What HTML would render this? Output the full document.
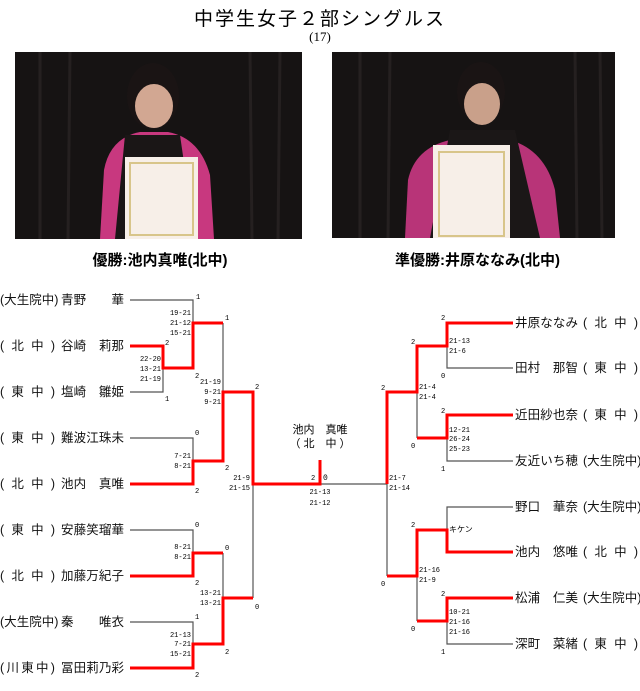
<!DOCTYPE html>
<html><head><meta charset="utf-8">
<style>
body{margin:0;width:640px;height:691px;background:#fff;position:relative;overflow:hidden;font-family:"Liberation Sans","Noto Sans CJK JP",sans-serif;}
.a{position:absolute;white-space:nowrap;color:#000;}
.f{position:absolute;display:flex;justify-content:space-between;font-size:12.5px;line-height:14px;color:#111;white-space:nowrap;}
.f i{font-style:normal;display:block;}
.n i{width:12.5px;text-align:center;}
.s{width:55px}.n{width:63px}
</style></head><body>
<div class="a" style="left:0;width:640px;text-align:center;top:4px;font-size:19px;letter-spacing:2px;">中学生女子２部シングルス</div>
<div class="a" style="left:0;width:640px;text-align:center;top:29px;font-size:13px;font-family:'Liberation Serif','Noto Serif CJK SC',serif;">(17)</div>

<svg style="position:absolute;left:0;top:0" width="640" height="691">
<rect x="15" y="52" width="287" height="187" fill="#161313"/>
<g stroke="#252020" stroke-width="3"><line x1="40" y1="52" x2="40" y2="239"/><line x1="70" y1="52" x2="68" y2="239"/><line x1="250" y1="52" x2="252" y2="239"/><line x1="280" y1="52" x2="278" y2="239"/></g>
<path d="M100 239 L104 170 Q110 138 140 132 L168 132 Q200 138 210 175 L214 239 Z" fill="#c8387f"/>
<path d="M125 135 L180 135 L195 239 L115 239 Z" fill="#1a1616"/>
<ellipse cx="153" cy="96" rx="26" ry="33" fill="#1a1414"/>
<ellipse cx="154" cy="106" rx="19" ry="22" fill="#d2a792"/>
<rect x="125" y="157" width="73" height="82" fill="#f7efe8"/>
<rect x="130" y="163" width="63" height="72" fill="none" stroke="#d8c58a" stroke-width="2"/>
<rect x="332" y="52" width="283" height="186" fill="#161313"/>
<g stroke="#252020" stroke-width="3"><line x1="360" y1="52" x2="360" y2="238"/><line x1="390" y1="52" x2="388" y2="238"/><line x1="575" y1="52" x2="577" y2="238"/><line x1="600" y1="52" x2="602" y2="238"/></g>
<path d="M405 238 L408 180 Q415 148 450 140 L510 140 Q545 150 555 190 L560 238 Z" fill="#b83478"/>
<path d="M450 130 L515 130 L540 238 L430 238 Z" fill="#1b1717"/>
<ellipse cx="481" cy="92" rx="24" ry="30" fill="#1a1414"/>
<ellipse cx="482" cy="104" rx="18" ry="21" fill="#c9a08a"/>
<rect x="433" y="145" width="77" height="93" fill="#f7efe8"/>
<rect x="439" y="152" width="65" height="84" fill="none" stroke="#d8c58a" stroke-width="2"/>

<g stroke="#555" stroke-width="1.2" fill="none">
<polyline points="130,300 193,300 193,323"/>
<polyline points="130,392 163,392 163,368"/>
<polyline points="130,438 193,438 193,461"/>
<polyline points="223,323 223,392"/>
<polyline points="130,530 193,530 193,553"/>
<polyline points="130,622 193,622 193,644"/>
<polyline points="223,553 223,598"/>
<polyline points="253,484 253,598"/>
<polyline points="320,484 387,484"/>
<polyline points="513,368 447,368 447,346"/>
<polyline points="513,461 447,461 447,438"/>
<polyline points="417,392 417,438"/>
<polyline points="513,507 447,507 447,530"/>
<polyline points="513,644 447,644 447,621"/>
<polyline points="417,576 417,621"/>
<polyline points="387,484 387,576"/>
</g>
<g stroke="#f00" stroke-width="3" fill="none">
<polyline points="130,346 163,346 163,368 193,368 193,323 223,323"/>
<polyline points="130,484 193,484 193,461 223,461 223,392 253,392 253,484 320,484 320,460"/>
<polyline points="130,576 193,576 193,553 223,553"/>
<polyline points="130,668 193,668 193,644 223,644 223,598 253,598"/>
<polyline points="513,323 447,323 447,346 417,346 417,392 387,392 387,484"/>
<polyline points="513,415 447,415 447,438 417,438"/>
<polyline points="513,552 447,552 447,530 417,530 417,576 387,576"/>
<polyline points="513,598 447,598 447,621 417,621"/>
</g>
<g font-family="Liberation Mono, monospace" font-size="7" fill="#000">
<text x="196" y="299">1</text>
<g text-anchor="end"><text x="191" y="315">19-21</text><text x="191" y="325">21-12</text><text x="191" y="335">15-21</text></g>
<text x="165" y="345">2</text>
<g text-anchor="end"><text x="161" y="361">22-20</text><text x="161" y="371">13-21</text><text x="161" y="381">21-19</text></g>
<text x="165" y="401">1</text><text x="195" y="378">2</text><text x="225" y="320">1</text>
<g text-anchor="end"><text x="221" y="384">21-19</text><text x="221" y="394">9-21</text><text x="221" y="404">9-21</text></g>
<text x="255" y="389">2</text><text x="195" y="435">0</text>
<g text-anchor="end"><text x="191" y="458">7-21</text><text x="191" y="468">8-21</text></g>
<text x="225" y="470">2</text>
<g text-anchor="end"><text x="250" y="480">21-9</text><text x="250" y="490">21-15</text></g>
<text x="311" y="480">2</text><text x="323" y="480" font-size="8">0</text>
<g text-anchor="middle"><text x="320" y="494">21-13</text><text x="320" y="505">21-12</text></g>
<text x="389" y="480">21-7</text><text x="389" y="490">21-14</text>
<text x="195" y="493">2</text><text x="195" y="527">0</text>
<g text-anchor="end"><text x="191" y="549">8-21</text><text x="191" y="559">8-21</text></g>
<text x="225" y="550">0</text><text x="195" y="585">2</text>
<g text-anchor="end"><text x="221" y="595">13-21</text><text x="221" y="605">13-21</text></g>
<text x="255" y="609">0</text><text x="195" y="619">1</text>
<g text-anchor="end"><text x="191" y="637">21-13</text><text x="191" y="646">7-21</text><text x="191" y="656">15-21</text></g>
<text x="225" y="654">2</text><text x="195" y="677">2</text>
<text x="441" y="320">2</text>
<text x="449" y="343">21-13</text><text x="449" y="353">21-6</text>
<text x="441" y="378">0</text><text x="411" y="344">2</text><text x="381" y="390">2</text>
<text x="419" y="389">21-4</text><text x="419" y="399">21-4</text>
<text x="441" y="413">2</text>
<text x="449" y="432">12-21</text><text x="449" y="441">26-24</text><text x="449" y="451">25-23</text>
<text x="441" y="471">1</text><text x="411" y="448">0</text>
<text x="411" y="527">2</text>
<text x="419" y="572">21-16</text><text x="419" y="582">21-9</text>
<text x="381" y="586">0</text><text x="441" y="596">2</text>
<text x="449" y="614">10-21</text><text x="449" y="624">21-16</text><text x="449" y="634">21-16</text>
<text x="411" y="631">0</text><text x="441" y="654">1</text>
</g>
</svg>

<div class="a" style="left:0;width:320px;text-align:center;top:249px;font-size:15px;font-weight:bold;">優勝:池内真唯(北中)</div>
<div class="a" style="left:320px;width:315px;text-align:center;top:249px;font-size:15px;font-weight:bold;">準優勝:井原ななみ(北中)</div>

<div class="a" style="left:220px;width:200px;text-align:center;top:423px;font-size:11px;line-height:14px;">池内　真唯<br>（ 北　中 ）</div>
<div class="a" style="left:449px;top:524px;font-size:8px;">キケン</div>

<div class="f s" style="left:0;top:293px"><i>(</i><i>大</i><i>生</i><i>院</i><i>中</i><i>)</i></div>
<div class="f s" style="left:0;top:339px"><i>(</i><i>北</i><i>中</i><i>)</i></div>
<div class="f s" style="left:0;top:385px"><i>(</i><i>東</i><i>中</i><i>)</i></div>
<div class="f s" style="left:0;top:431px"><i>(</i><i>東</i><i>中</i><i>)</i></div>
<div class="f s" style="left:0;top:477px"><i>(</i><i>北</i><i>中</i><i>)</i></div>
<div class="f s" style="left:0;top:523px"><i>(</i><i>東</i><i>中</i><i>)</i></div>
<div class="f s" style="left:0;top:569px"><i>(</i><i>北</i><i>中</i><i>)</i></div>
<div class="f s" style="left:0;top:615px"><i>(</i><i>大</i><i>生</i><i>院</i><i>中</i><i>)</i></div>
<div class="f s" style="left:0;top:661px"><i>(</i><i>川</i><i>東</i><i>中</i><i>)</i></div>
<div class="f n" style="left:61px;top:293px"><i>青</i><i>野</i><i></i><i></i><i>華</i></div>
<div class="f n" style="left:61px;top:339px"><i>谷</i><i>崎</i><i></i><i>莉</i><i>那</i></div>
<div class="f n" style="left:61px;top:385px"><i>塩</i><i>崎</i><i></i><i>雛</i><i>姫</i></div>
<div class="f n" style="left:61px;top:431px"><i>難</i><i>波</i><i>江</i><i>珠</i><i>未</i></div>
<div class="f n" style="left:61px;top:477px"><i>池</i><i>内</i><i></i><i>真</i><i>唯</i></div>
<div class="f n" style="left:61px;top:523px"><i>安</i><i>藤</i><i>笑</i><i>瑠</i><i>華</i></div>
<div class="f n" style="left:61px;top:569px"><i>加</i><i>藤</i><i>万</i><i>紀</i><i>子</i></div>
<div class="f n" style="left:61px;top:615px"><i>秦</i><i></i><i></i><i>唯</i><i>衣</i></div>
<div class="f n" style="left:61px;top:661px"><i>冨</i><i>田</i><i>莉</i><i>乃</i><i>彩</i></div>
<div class="f n" style="left:515px;top:316px"><i>井</i><i>原</i><i>な</i><i>な</i><i>み</i></div>
<div class="f n" style="left:515px;top:361px"><i>田</i><i>村</i><i></i><i>那</i><i>智</i></div>
<div class="f n" style="left:515px;top:408px"><i>近</i><i>田</i><i>紗</i><i>也</i><i>奈</i></div>
<div class="f n" style="left:515px;top:454px"><i>友</i><i>近</i><i>い</i><i>ち</i><i>穂</i></div>
<div class="f n" style="left:515px;top:500px"><i>野</i><i>口</i><i></i><i>華</i><i>奈</i></div>
<div class="f n" style="left:515px;top:545px"><i>池</i><i>内</i><i></i><i>悠</i><i>唯</i></div>
<div class="f n" style="left:515px;top:591px"><i>松</i><i>浦</i><i></i><i>仁</i><i>美</i></div>
<div class="f n" style="left:515px;top:637px"><i>深</i><i>町</i><i></i><i>菜</i><i>緒</i></div>
<div class="f s" style="left:583px;top:316px"><i>(</i><i>北</i><i>中</i><i>)</i></div>
<div class="f s" style="left:583px;top:361px"><i>(</i><i>東</i><i>中</i><i>)</i></div>
<div class="f s" style="left:583px;top:408px"><i>(</i><i>東</i><i>中</i><i>)</i></div>
<div class="f s" style="left:583px;top:454px"><i>(</i><i>大</i><i>生</i><i>院</i><i>中</i><i>)</i></div>
<div class="f s" style="left:583px;top:500px"><i>(</i><i>大</i><i>生</i><i>院</i><i>中</i><i>)</i></div>
<div class="f s" style="left:583px;top:545px"><i>(</i><i>北</i><i>中</i><i>)</i></div>
<div class="f s" style="left:583px;top:591px"><i>(</i><i>大</i><i>生</i><i>院</i><i>中</i><i>)</i></div>
<div class="f s" style="left:583px;top:637px"><i>(</i><i>東</i><i>中</i><i>)</i></div>
</body></html>
